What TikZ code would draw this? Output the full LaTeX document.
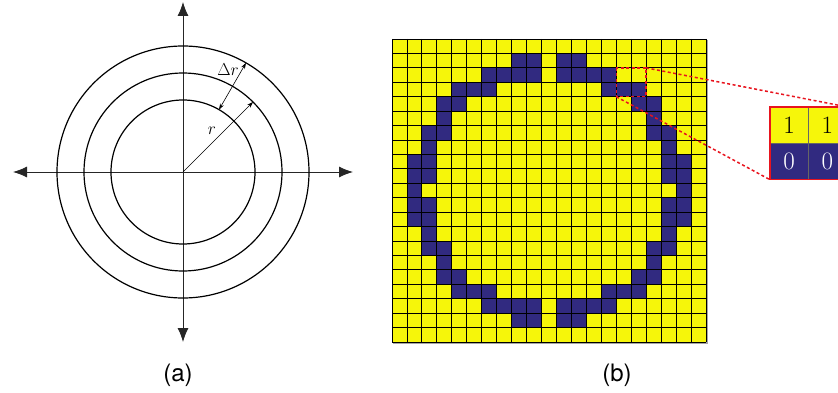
\documentclass[tikz,border=0pt]{standalone}
\usepackage{fontspec}
\newfontfamily\labelfont{TeX Gyre Heros}
\usepackage{tikz}
\usetikzlibrary{arrows.meta,positioning,calc}
\definecolor{gridyellow}{HTML}{F6F60A}
\definecolor{gridblue}{HTML}{312A80}
\definecolor{zoomred}{HTML}{E8141E}

\begin{document}
\begin{tikzpicture}[x=1pt,y=1pt,
  axisline/.style={line width=0.9pt,black!85,{Latex[length=14pt,width=11pt]}-{Latex[length=14pt,width=11pt]}},
  ring/.style={line width=1.2pt},
  dimarrow/.style={line width=0.6pt,-{Stealth[length=6pt,width=4pt]}},
  dimboth/.style={line width=0.6pt,{Stealth[length=6pt,width=4pt]}-{Stealth[length=6pt,width=4pt]}},
  cellone/.style={fill=gridyellow,draw=black!60,minimum width=38pt,minimum height=36pt,
                  inner sep=0pt,font=\fontsize{25}{28}\selectfont},
  cellzero/.style={cellone,fill=gridblue,text=white},
  zoomline/.style={zoomred,line width=1.5pt,dash pattern=on 3pt off 2.5pt},
  caption/.style={font=\labelfont\fontsize{24}{28}\selectfont}]
  \clip (0,0) rectangle (838,392);
  % (a) rings and axes
  \coordinate (o) at (183,220);
  \coordinate (xl) at (13,220);
  \coordinate (xr) at (353,220);
  \coordinate (yb) at (183,50);
  \coordinate (yt) at (183,390);
  \draw[axisline] (xl) -- (xr);
  \draw[axisline] (yb) -- (yt);
  \foreach \rad in {72,99,126} \draw[ring] (o) circle (\rad);
  \coordinate (rend) at ($(o)+(45:99)$);
  \coordinate (drin) at ($(o)+(60:72)$);
  \coordinate (drout) at ($(o)+(60:126)$);
  \draw[dimarrow] (o) -- (rend);
  \draw[dimboth] (drin) -- (drout);
  \node[font=\fontsize{19}{22}\selectfont] (rlab) at (212,261) {$r$};
  \node[font=\fontsize{19}{22}\selectfont] (drlab) at (228,322) {$\Delta r$};
  % (b) binary grid
  \begin{scope}[shift={(392,353)},x=14.95pt,y=-14.43pt]
    \fill[gridyellow] (0,0) rectangle (21,21);
    \foreach \r/\cols in {1/{8,9,11,12}, 2/{6,7,8,9,11,12,13,14}, 3/{4,5,6,14,15,16},
                          4/{3,4,16,17}, 5/{3,17}, 6/{2,3,17,18}, 7/{2,18},
                          8/{1,2,18,19}, 9/{1,2,18,19}, 10/{1,19}, 11/{1,2,18,19},
                          12/{1,2,18,19}, 13/{2,18}, 14/{2,3,17,18}, 15/{3,17},
                          16/{3,4,16,17}, 17/{4,5,6,14,15,16},
                          18/{6,7,8,9,11,12,13,14}, 19/{8,9,11,12}}
      {\foreach \c in \cols \fill[gridblue] (\c,\r) rectangle ++(1,1);}
    \draw[black!35,line width=1.4pt] (21.08,0.1) -- (21.08,21.06) -- (0.1,21.06);
    \foreach \i in {0,...,21} {
      \draw[line width=0.9pt] (\i,0) -- (\i,21);
      \draw[line width=0.9pt] (0,\i) -- (21,\i);
    }
    \draw[zoomline] (15,2) rectangle (17,4);
    \coordinate (zoomne) at (17,2);
    \coordinate (zoomsw) at (15,4);
  \end{scope}
  % zoomed cells
  \node[cellone] (inA) at (789,267) {1};
  \node[cellone,right=0pt of inA] (inB) {1};
  \node[cellzero,below=0pt of inA] (inC) {0};
  \node[cellzero,right=0pt of inC] (inD) {0};
  \draw[zoomred,line width=1.6pt] (inA.north west) rectangle (inD.south east);
  \draw[zoomline] (zoomne) -- (inB.north east);
  \draw[zoomline] (zoomsw) -- (inC.south west);
  % captions
  \node[caption] (capa) at (178,17) {(a)};
  \node[caption] (capb) at (617,17) {(b)};
\end{tikzpicture}
\end{document}
